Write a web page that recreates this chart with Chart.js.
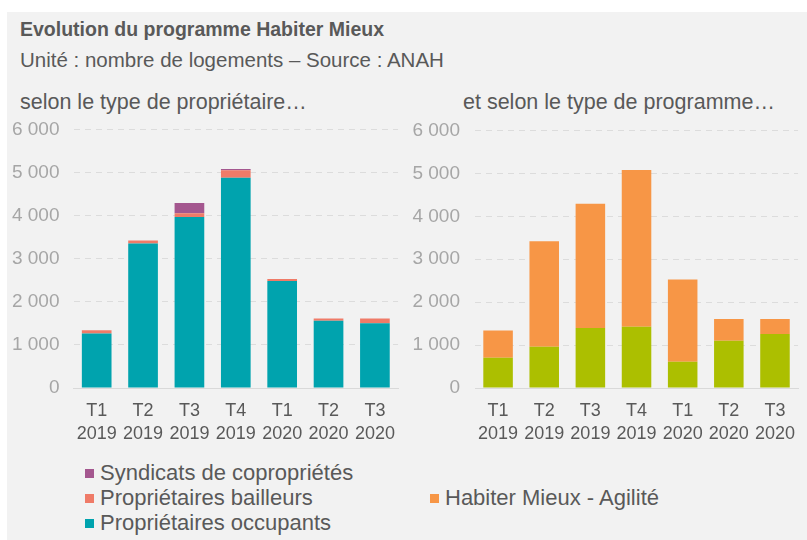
<!DOCTYPE html>
<html>
<head>
<meta charset="utf-8">
<script src="https://cdn.jsdelivr.net/npm/chart.js@4.4.1/dist/chart.umd.min.js"></script>
<style>
  body { margin: 0; width: 807px; height: 540px; background: #fff; position: relative; overflow: hidden;
         font-family: "Liberation Sans", Arial, sans-serif; color: #595959; }
  #panel { position: absolute; left: 7px; top: 12px; right: 0; bottom: 0; background: #f2f2f2; }
  .txt { position: absolute; white-space: nowrap; line-height: 1; }
  #title { left: 20px; top: 20px; font-size: 19.5px; font-weight: bold; }
  #subtitle { left: 20px; top: 50px; font-size: 20.5px; }
  #headLeft { left: 20px; top: 92px; font-size: 21.5px; }
  #headRight { left: 463px; top: 92px; font-size: 21.5px; }
  .box { position: absolute; }
  canvas { display: block; }
  .legend { position: absolute; font-size: 22px; line-height: 25px; }
  .legend div { white-space: nowrap; }
  .legend span { display: inline-block; width: 9px; height: 9px; margin-right: 6px; vertical-align: 2px; }
</style>
</head>
<body>
<div id="panel"></div>
<div class="txt" id="title">Evolution du programme Habiter Mieux</div>
<div class="txt" id="subtitle">Unité : nombre de logements – Source : ANAH</div>
<div class="txt" id="headLeft">selon le type de propriétaire…</div>
<div class="txt" id="headRight">et selon le type de programme…</div>

<div class="box" style="left:7px;top:104px;width:400px;height:353px"><canvas id="chartLeft"></canvas></div>
<div class="box" style="left:407px;top:104px;width:400px;height:353px"><canvas id="chartRight"></canvas></div>

<div class="legend" id="legendLeft" style="left:85px;top:460px"></div>
<div class="legend" id="legendRight" style="left:430px;top:485px"></div>

<script>
// Data (number of housing units)
const quarters = [['T1', '2019'], ['T2', '2019'], ['T3', '2019'], ['T4', '2019'], ['T1', '2020'], ['T2', '2020'], ['T3', '2020']];

const proprietairesOccupants = [1265, 3350, 3970, 4880, 2480, 1560, 1500];
const proprietairesBailleurs = [75, 70, 85, 170, 50, 50, 110];
const syndicatsCopro = [0, 0, 240, 30, 0, 0, 0];

const habiterMieuxSerenite = [705, 960, 1395, 1425, 610, 1100, 1260];
const habiterMieuxAgilite = [635, 2460, 2895, 3655, 1915, 510, 345];

const yTicks = [0, 1000, 2000, 3000, 4000, 5000, 6000];

const textColor = '#595959';
const tickColor = '#a6a6a6';
const gridColor = '#dcdcdc';

function fmt(v) {
  return String(v).replace(/\B(?=(\d{3})+(?!\d))/g, ' ');
}

function makeOptions(axisWidth, tickPad, padRight) {
  return {
    responsive: true,
    maintainAspectRatio: false,
    animation: false,
    layout: { padding: { top: 18, right: padRight, left: 0, bottom: 0 } },
    plugins: { legend: { display: false }, tooltip: { enabled: false } },
    scales: {
      x: {
        stacked: true,
        grid: { display: false, drawTicks: false },
        border: { display: true, color: '#d9d9d9', width: 1 },
        ticks: { color: textColor, padding: 12, font: { family: 'Liberation Sans', size: 18, lineHeight: 1.25 }, maxRotation: 0, autoSkip: false }
      },
      y: {
        stacked: true,
        min: 0,
        max: 6000,
        afterBuildTicks: (scale) => { scale.ticks = yTicks.map(v => ({ value: v })); },
        afterFit: (scale) => { scale.width = axisWidth; },
        grid: { color: (ctx) => ctx.tick && ctx.tick.value === 0 ? 'rgba(0,0,0,0)' : gridColor, drawTicks: false, lineWidth: 1 },
        border: { display: false, dash: [6, 5] },
        ticks: { color: tickColor, padding: tickPad, font: { family: 'Liberation Sans', size: 19 }, callback: (v) => fmt(v) }
      }
    }
  };
}

function bar(label, data, color) {
  return {
    label: label,
    data: data,
    backgroundColor: color,
    borderWidth: 0,
    categoryPercentage: 1,
    barPercentage: 0.64
  };
}

const leftChart = new Chart(document.getElementById('chartLeft'), {
  type: 'bar',
  data: {
    labels: quarters,
    datasets: [
      bar('Propriétaires occupants', proprietairesOccupants, '#00a3ae'),
      bar('Propriétaires bailleurs', proprietairesBailleurs, '#ef7b68'),
      bar('Syndicats de copropriétés', syndicatsCopro, '#a4578f')
    ]
  },
  options: makeOptions(66.5, 14, 1)
});

const rightChart = new Chart(document.getElementById('chartRight'), {
  type: 'bar',
  data: {
    labels: quarters,
    datasets: [
      bar('Habiter Mieux - Sérénité', habiterMieuxSerenite, '#acbf00'),
      bar('Habiter Mieux - Agilité', habiterMieuxAgilite, '#f79646')
    ]
  },
  options: makeOptions(68, 15, 0)
});

// legends listed top-down, like the stacks
function buildLegend(chart, el, shown) {
  const items = chart.data.datasets.slice().reverse().filter(ds => shown.includes(ds.label));
  el.innerHTML = items.map(ds =>
    '<div><span style="background:' + ds.backgroundColor + '"></span>' + ds.label + '</div>').join('');
}
buildLegend(leftChart, document.getElementById('legendLeft'),
  ['Syndicats de copropriétés', 'Propriétaires bailleurs', 'Propriétaires occupants']);
buildLegend(rightChart, document.getElementById('legendRight'), ['Habiter Mieux - Agilité']);
</script>
</body>
</html>
